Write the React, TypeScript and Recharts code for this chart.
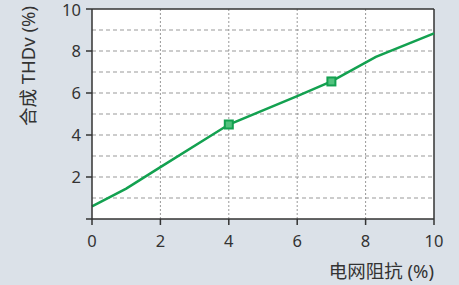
import { CartesianGrid, ComposedChart, Line, ReferenceLine, Scatter, XAxis, YAxis } from 'recharts';

// 电网阻抗 (%) vs 合成 THDv (%)
const impedance = [0, 1, 2, 4, 6, 7, 8.3, 10];
const thdv = [0.6, 1.45, 2.47, 4.5, 5.85, 6.55, 7.72, 8.84];
const markerX = [4, 7];
const markerY = [4.5, 6.55];
const xTicks = [0, 2, 4, 6, 8, 10];
const yTicks = [0, 2, 4, 6, 8, 10];
const hGrid = [1, 2, 3, 4, 5, 6, 7, 8, 9];
const vGrid = [2, 4, 6, 8];

const lineData = impedance.map((x, i) => ({ x, y: thdv[i] }));
const markerData = markerX.map((x, i) => ({ x, y: markerY[i] }));

const FONT = '"Noto Sans", "Noto Sans CJK SC", sans-serif';
const GREEN = '#13a150';
const INK = '#333';

const SquareMark = (props: any) => {
  const { cx, cy } = props;
  return <rect x={cx - 4} y={cy - 4} width={8} height={8} fill="#52c27e" stroke={GREEN} strokeWidth={2} />;
};

export default function App() {
  return (
    <div style={{ position: 'absolute', left: 0, top: 0, width: 459, height: 285, background: '#dbe1e8', fontFamily: FONT }}>
      <ComposedChart width={459} height={285} data={lineData} margin={{ top: 9, right: 25, bottom: 36, left: 0 }}>
        <CartesianGrid horizontal={false} vertical={false} fill="#fff" />
        {hGrid.map(v => (
          <ReferenceLine key={'h' + v} y={v} stroke="#999" strokeDasharray="4 3" strokeWidth={1} />
        ))}
        {vGrid.map(v => (
          <ReferenceLine key={'v' + v} x={v} stroke="#999" strokeDasharray="2 2" strokeWidth={1} />
        ))}
        <ReferenceLine y={10} stroke={INK} strokeWidth={1.5} />
        <ReferenceLine x={10} stroke={INK} strokeWidth={1.5} />
        <XAxis
          dataKey="x"
          type="number"
          domain={[0, 10]}
          ticks={xTicks}
          height={30}
          tickSize={6}
          tickMargin={10}
          axisLine={{ stroke: INK, strokeWidth: 1.5 }}
          tickLine={{ stroke: INK, strokeWidth: 1.5 }}
          tick={{ fill: INK, fontSize: 16.5, fontFamily: FONT }}
          label={{
            content: () => (
              <text x={434} y={270} textAnchor="end" dominantBaseline="central" fill={INK} fontSize={18.5} fontFamily={FONT}>
                电网阻抗 (%)
              </text>
            ),
          }}
        />
        <YAxis
          dataKey="y"
          type="number"
          domain={[0, 10]}
          ticks={yTicks}
          width={92}
          tickSize={6}
          tickMargin={5}
          tickFormatter={(v: number) => (v === 0 ? '' : String(v))}
          axisLine={{ stroke: INK, strokeWidth: 1.5 }}
          tickLine={{ stroke: INK, strokeWidth: 1.5 }}
          tick={{ fill: INK, fontSize: 16.5, fontFamily: FONT }}
          label={{
            content: () => (
              <text
                x={0}
                y={0}
                transform="translate(27,66) rotate(-90)"
                textAnchor="middle"
                dominantBaseline="central"
                fill={INK}
                fontSize={18.5}
                fontFamily={FONT}
              >
                合成 THDv (%)
              </text>
            ),
          }}
        />
        <Line type="linear" dataKey="y" stroke={GREEN} strokeWidth={2.5} dot={false} activeDot={false} isAnimationActive={false} />
        <Scatter data={markerData} dataKey="y" shape={SquareMark} isAnimationActive={false} />
      </ComposedChart>
    </div>
  );
}
